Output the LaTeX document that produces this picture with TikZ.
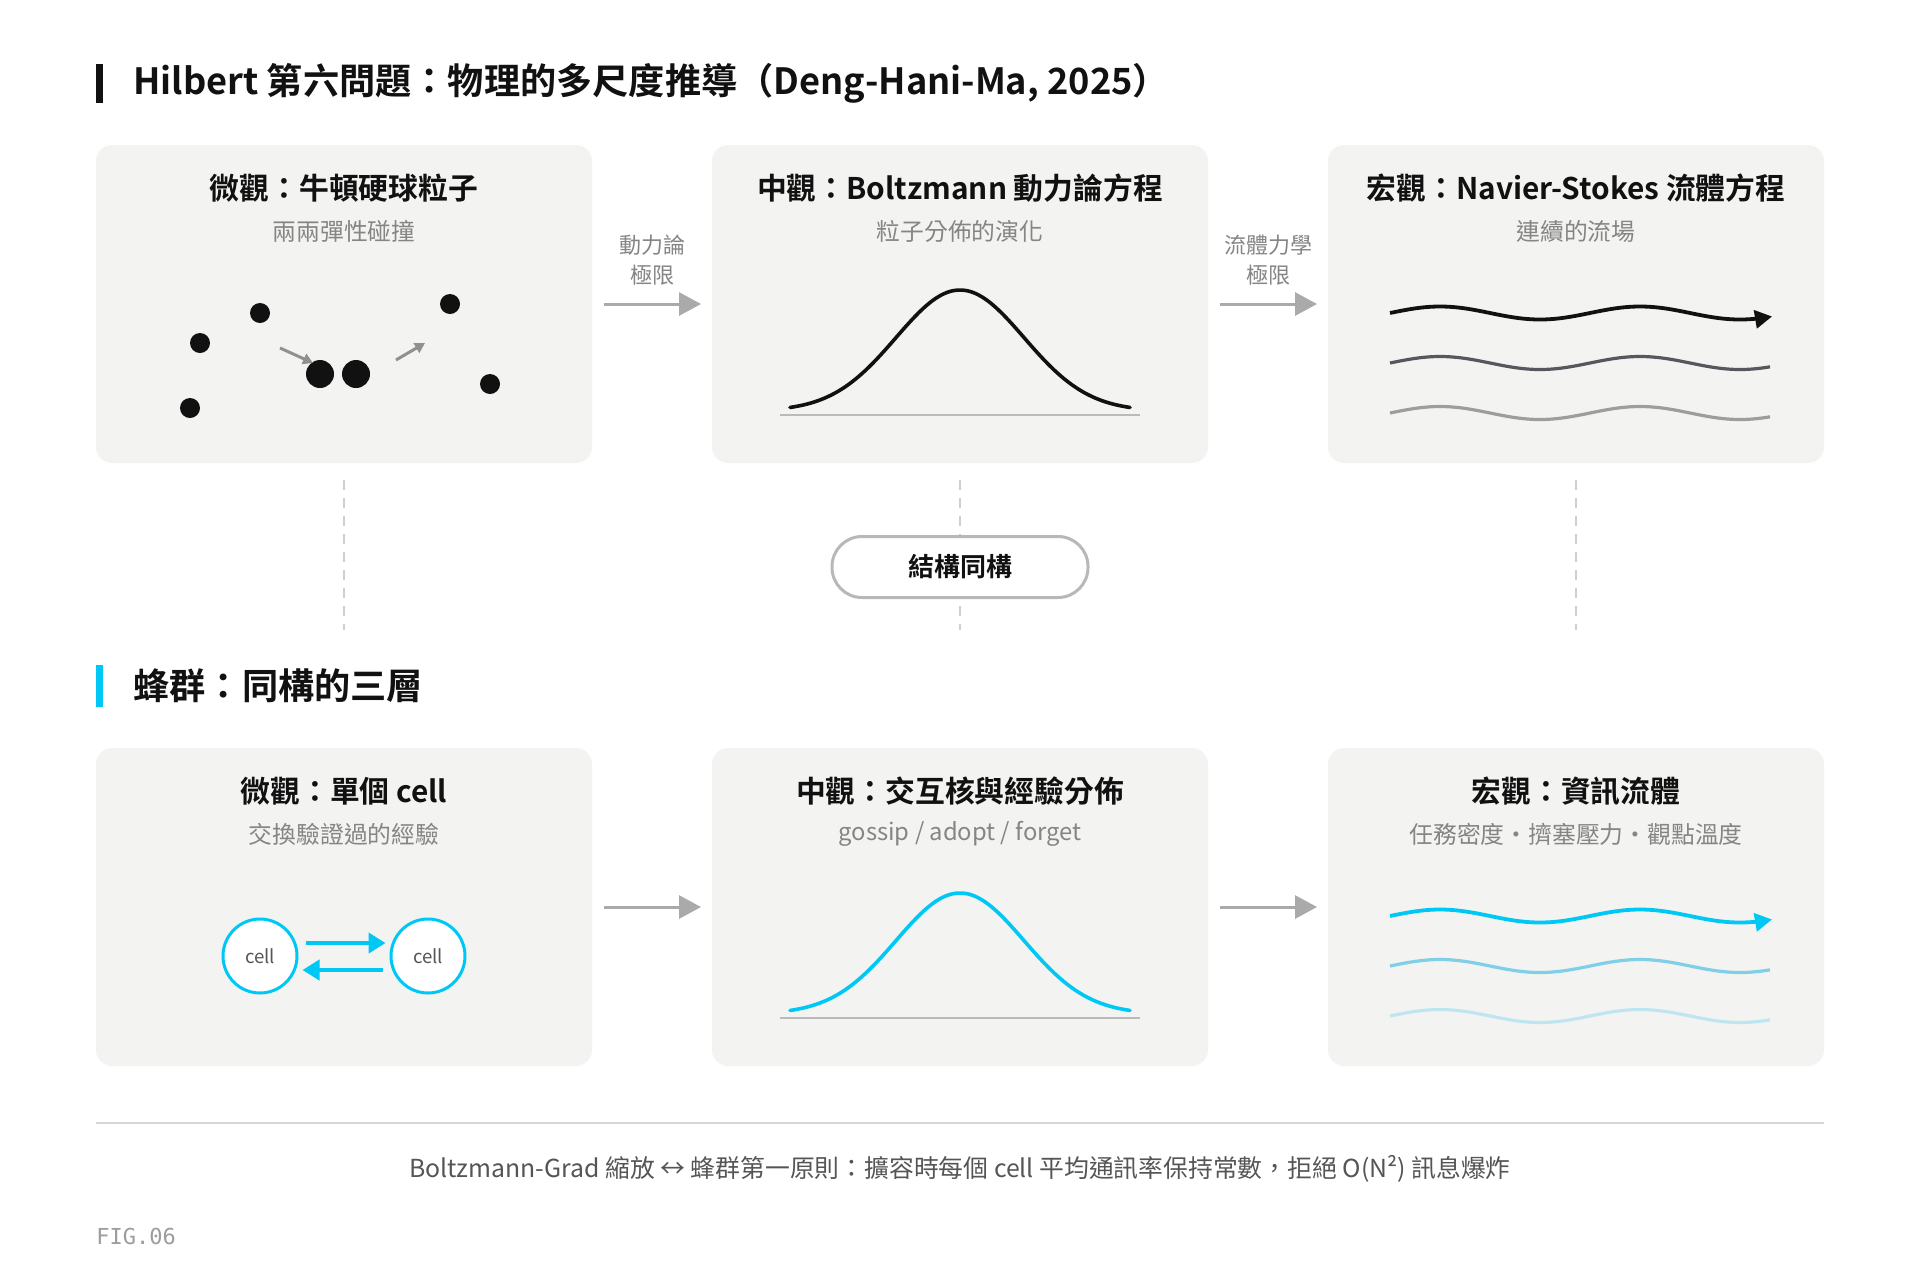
\documentclass[tikz,border=0pt]{standalone}
\usepackage{fontspec}
\setmainfont{Noto Sans CJK TC}[BoldFont={Noto Sans CJK TC Bold}]
\setmonofont{DejaVu Sans Mono}
\usetikzlibrary{arrows.meta, positioning}

\definecolor{panelgray}{HTML}{F3F3F1}
\definecolor{inkblack}{HTML}{111111}
\definecolor{subgray}{HTML}{858585}
\definecolor{arrowgray}{HTML}{AAAAAA}
\definecolor{pillgray}{HTML}{B8B8B8}
\definecolor{dashgray}{HTML}{CFCFCF}
\definecolor{rulegray}{HTML}{D6D6D2}
\definecolor{textgray}{HTML}{555555}
\definecolor{wavemid}{HTML}{55575D}
\definecolor{wavelight}{HTML}{9D9D9F}
\definecolor{swarmcyan}{HTML}{00C8F5}
\definecolor{swarmmid}{HTML}{7FCFE9}
\definecolor{swarmlight}{HTML}{BFE5F1}

\begin{document}
\begin{tikzpicture}[x=0.5pt, y=-0.5pt, >=Stealth, node distance=60pt,
  panel/.style={rectangle, rounded corners=8pt, fill=panelgray, minimum width=248pt, minimum height=159pt, inner sep=0pt, outer sep=0pt},
  headline/.style={anchor=west, inner sep=0pt, font=\fontsize{18.1}{22}\selectfont\bfseries, text=inkblack},
  ptitle/.style={inner sep=0pt, font=\fontsize{14.9}{17}\selectfont\bfseries, text=inkblack},
  psub/.style={inner sep=0pt, font=\fontsize{11.9}{14}\selectfont, text=subgray},
  flow/.style={draw=arrowgray, line width=1.5pt, -{Triangle[length=11pt,width=11.5pt]}, shorten <=6pt, shorten >=5.5pt},
  flowlabel/.style={inner sep=0pt, align=center, font=\fontsize{11}{15}\selectfont, text=subgray},
  vlink/.style={draw=dashgray, line width=1pt, dash pattern=on 5pt off 4pt},
  pill/.style={rectangle, rounded corners=15pt, draw=pillgray, line width=1.5pt, fill=white, minimum width=128pt, minimum height=30.5pt, font=\fontsize{13}{15}\selectfont\bfseries, text=inkblack},
  axisline/.style={draw=dashgray!90!black, line width=1pt},
  ball/.style={fill=inkblack},
  kick/.style={draw=arrowgray!85!black, line width=1.5pt, -{Triangle[length=5pt,width=5.5pt]}},
  cellnode/.style={circle, draw=swarmcyan, line width=1.5pt, fill=white, minimum size=37pt, inner sep=0pt, font=\fontsize{9.3}{11}\selectfont, text=textgray},
  cellarrow/.style={draw=swarmcyan, line width=2pt, -{Triangle[length=8.5pt,width=10pt]}}
]

% page
\fill[white] (0,0) rectangle (1920,1280);
\useasboundingbox (0,0) rectangle (1920,1280);

% Header: physics
\fill[inkblack] (96,64) rectangle (103,103);
\node[headline] (hphys) at (133,83) {Hilbert 第六問題：物理的多尺度推導（Deng-Hani-Ma, 2025）};

% Physics panels
\node[panel] (pmicro) at (344,304) {};
\node[panel, right=of pmicro] (pmeso) {};
\node[panel, right=of pmeso] (pmacro) {};

\node[ptitle] (tpmicro) at ([yshift=-21.5pt]pmicro.north) {微觀：牛頓硬球粒子};
\node[psub] (spmicro) at ([yshift=-43pt]pmicro.north) {兩兩彈性碰撞};
\node[ptitle] (tpmeso) at ([yshift=-21.5pt]pmeso.north) {中觀：Boltzmann 動力論方程};
\node[psub] (spmeso) at ([yshift=-43pt]pmeso.north) {粒子分佈的演化};
\node[ptitle] (tpmacro) at ([yshift=-21.5pt]pmacro.north) {宏觀：Navier-Stokes 流體方程};
\node[psub] (spmacro) at ([yshift=-43pt]pmacro.north) {連續的流場};

% Limits between physics panels
\draw[flow] (pmicro) -- node[flowlabel, midway, yshift=22pt] (lkin) {動力論\\極限} (pmeso);
\draw[flow] (pmeso) -- node[flowlabel, midway, yshift=22pt] (lhyd) {流體力學\\極限} (pmacro);

% Hard spheres
\begin{scope}[shift={(pmicro.center)}]
  \fill[ball] (-84,9) circle (5pt);
  \fill[ball] (-144,39) circle (5pt);
  \fill[ball] (-154,104) circle (5pt);
  \fill[ball] (106,0) circle (5pt);
  \fill[ball] (146,80) circle (5pt);
  \fill[ball] (-24,70) circle (7pt);
  \fill[ball] (12,70) circle (7pt);
  \draw[kick] (-64,44) -- (-31,59);
  \draw[kick] (52,56) -- (81,39);
\end{scope}

% Boltzmann distribution
\begin{scope}[shift={(pmeso.center)}]
  \draw[axisline] (-180,111) -- (180,111);
  \draw[inkblack, line width=1.8pt, line cap=round] plot[domain=-170:170, samples=80, smooth] ({\x},{107-121*exp(-((\x/64)^2)/2)});
\end{scope}

% Flow field
\begin{scope}[shift={(pmacro.center)}]
  \draw[inkblack, line width=1.9pt, -{Triangle[length=8.5pt,width=9pt]}] plot[domain=0:382, samples=80, smooth] ({\x-186},{9-6.5*sin(1.8*\x)});
  \draw[wavemid, line width=1.6pt] plot[domain=0:380, samples=80, smooth] ({\x-186},{59-6.5*sin(1.8*\x)});
  \draw[wavelight, line width=1.6pt] plot[domain=0:380, samples=80, smooth] ({\x-186},{109-6.5*sin(1.8*\x)});
\end{scope}

% Isomorphism links
\draw[vlink] ([yshift=-8.5pt]pmicro.south) -- ++(0,150);
\draw[vlink] ([yshift=-8.5pt]pmeso.south) -- ++(0,150);
\draw[vlink] ([yshift=-8.5pt]pmacro.south) -- ++(0,150);
\node[pill, below=36pt of pmeso] (iso) {結構同構};

% Header: swarm
\fill[swarmcyan] (96,665) rectangle (103,707);
\node[headline] (hswarm) at (133,686) {蜂群：同構的三層};

% Swarm panels
\node[panel, below=142.5pt of pmicro] (smicro) {};
\node[panel, right=of smicro] (smeso) {};
\node[panel, right=of smeso] (smacro) {};

\node[ptitle] (tsmicro) at ([yshift=-21.5pt]smicro.north) {微觀：單個 cell};
\node[psub] (ssmicro) at ([yshift=-43pt]smicro.north) {交換驗證過的經驗};
\node[ptitle] (tsmeso) at ([yshift=-21.5pt]smeso.north) {中觀：交互核與經驗分佈};
\node[psub] (ssmeso) at ([yshift=-43pt]smeso.north) {gossip / adopt / forget};
\node[ptitle] (tsmacro) at ([yshift=-21.5pt]smacro.north) {宏觀：資訊流體};
\node[psub] (ssmacro) at ([yshift=-43pt]smacro.north) {任務密度·擠塞壓力·觀點溫度};

\draw[flow] (smicro) -- (smeso);
\draw[flow] (smeso) -- (smacro);

% Two cells
\node[cellnode] (cl) at ([shift={(-84,49)}]smicro.center) {cell};
\node[cellnode] (cr) at ([shift={(84,49)}]smicro.center) {cell};
\draw[cellarrow] ([shift={(7,-13)}]cl.east) -- ([shift={(-4,-13)}]cr.west);
\draw[cellarrow] ([shift={(-7,14)}]cr.west) -- ([shift={(4,14)}]cl.east);

% Interaction kernel
\begin{scope}[shift={(smeso.center)}]
  \draw[axisline] (-180,111) -- (180,111);
  \draw[swarmcyan, line width=1.8pt, line cap=round] plot[domain=-170:170, samples=80, smooth] ({\x},{107-121*exp(-((\x/64)^2)/2)});
\end{scope}

% Information fluid
\begin{scope}[shift={(smacro.center)}]
  \draw[swarmcyan, line width=1.9pt, -{Triangle[length=8.5pt,width=9pt]}] plot[domain=0:382, samples=80, smooth] ({\x-186},{9-6.5*sin(1.8*\x)});
  \draw[swarmmid, line width=1.6pt] plot[domain=0:380, samples=80, smooth] ({\x-186},{59-6.5*sin(1.8*\x)});
  \draw[swarmlight, line width=1.6pt] plot[domain=0:380, samples=80, smooth] ({\x-186},{109-6.5*sin(1.8*\x)});
\end{scope}

% Footer
\draw[rulegray, line width=1pt] (96,1123) -- (1824,1123);
\node[inner sep=0pt, font=\fontsize{12.4}{14}\selectfont, text=textgray] (note) at (960,1169) {Boltzmann-Grad 縮放 ↔ 蜂群第一原則：擴容時每個 cell 平均通訊率保持常數，拒絕 O(N²) 訊息爆炸};
\node[anchor=west, inner sep=0pt, font=\fontsize{11}{12}\selectfont\ttfamily, text=wavelight] (fig) at (96,1236) {FIG.06};

\end{tikzpicture}
\end{document}
